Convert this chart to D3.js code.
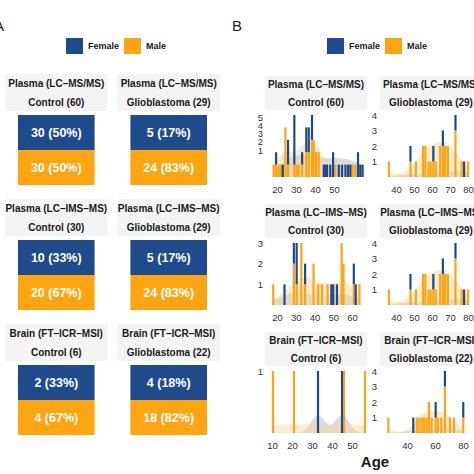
<!DOCTYPE html>
<html><head><meta charset="utf-8">
<script src="https://cdn.jsdelivr.net/npm/d3@7"></script>
<style>body{margin:0;background:#fff}svg{display:block;font-family:"Liberation Sans",Arial,Helvetica,sans-serif}</style>
</head><body><svg id="c" width="474" height="474"></svg>
<script>
// ---------------- DATA ----------------
const sexes = ["Female", "Male"];
const methods = ["Plasma (LC\u2013MS/MS)", "Plasma (LC\u2013IMS\u2013MS)", "Brain (FT\u2013ICR\u2013MSI)"];
const groupNames = ["Control", "Glioblastoma"];
const femaleCounts = [[30, 5], [10, 5], [2, 4]];
const maleCounts = [[30, 24], [20, 24], [4, 18]];

// histogram bars: [age, female, male]
const histLCMSControl = [[18.2,0,1],[19.5,1,1],[20.9,0,1],[22.1,0,1],[23,1,0],[24.4,0,4],[25.8,2,1],[29.1,4,1],[30.2,0,1],[31.4,0,1],[33.2,1,1],[35.4,2,2],[36.7,2,2],[38.4,2,3],[39.3,0,3],[40.5,0,2],[41.9,0,2],[44.6,1,0],[45.5,1,0],[46.3,1,0],[48,1,0],[49.5,2,0],[50.7,0,1],[52.5,1,0],[54.2,1,0],[56,1,0],[57.4,1,0],[58.6,1,0],[59.8,0,1],[61.2,0,1],[62.6,2,0],[63.8,1,0],[65,1,0]];
const histLCMSGlioma = [[36,0,1],[48,1,1],[51,0,1],[55,0,2],[56.3,0,2],[58,0,1],[59.2,0,1],[60.7,1,1],[62,0,1],[64.5,0,2],[66,1,2],[67.3,0,2],[68.8,0,2],[73,1,3],[76.5,0,1],[77.8,1,0],[80,0,1]];
const histIMSControl = [[18,0,1],[24,1,0],[29,1,2],[30.5,2,1],[33,0,3],[35,1,1],[39.5,0,2],[42,0,1],[44,0,1],[47,0,1],[49,1,0],[50,1,0],[52,1,0],[54.5,0,3],[55.5,0,2],[61,1,1],[62,1,0],[64,0,1]];
const histIMSGlioma = [[36,0,1],[48,1,1],[51,0,1],[55,0,2],[56.3,0,2],[58,0,1],[59.2,0,1],[60.7,1,1],[62,0,1],[64.5,0,2],[66,1,2],[67.3,0,2],[68.8,0,2],[73,1,3],[76.5,0,1],[77.8,1,0],[80,0,1]];
const histBrainControl = [[10.5,0,1],[21,0,1],[33,1,0],[45,1,0],[46,0,1],[56.5,0,1]];
const histBrainGlioma = [[26.7,0,1],[44.5,1,0],[47,0,1],[48.8,0,1],[50.5,0,1],[52.2,0,1],[54,0,1],[55.7,0,2],[57.6,0,1],[60.5,1,1],[62,0,1],[64.5,0,1],[67.1,1,3],[70.7,0,1],[73.6,0,1],[80.2,1,1]];

const xTicksLCMSControl = [20, 30, 40, 50];
const xTicksLCMSGlioma = [40, 50, 60, 70, 80];
const xTicksIMSControl = [20, 30, 40, 50, 60];
const xTicksIMSGlioma = [40, 50, 60, 70, 80];
const xTicksBrainControl = [10, 20, 30, 40, 50];
const xTicksBrainGlioma = [40, 60, 80];

// ---------------- STYLE / LAYOUT ----------------
const colors = {Female: "#1F4B8C", Male: "#FFA511"};
const densFill = {Female: "#a8a8a8", Male: "#f1d49a"};
const densOpacity = {Female: 0.4, Male: 0.45};
const svg = d3.select("#c");
const txt = "#1a1a1a";

// panel labels
svg.append("text").attr("x", -6).attr("y", 31).attr("font-size", 15).attr("fill", "#222").text("A");
svg.append("text").attr("x", 232).attr("y", 31).attr("font-size", 15).attr("fill", "#222").text("B");

function legend(x0) {
  const g = svg.append("g");
  const lx = d3.scaleOrdinal().domain(sexes).range([x0, x0 + 58]);
  sexes.forEach(s => {
    g.append("rect").attr("x", lx(s)).attr("y", 38).attr("width", 17).attr("height", 16).attr("fill", colors[s]);
    g.append("text").attr("x", lx(s) + 22).attr("y", 46).attr("dy", "0.35em")
      .attr("font-size", 9).attr("font-weight", "bold").attr("fill", txt).text(s);
  });
}
legend(66);
legend(327);

// ---------------- PANEL A ----------------
const aRowT1 = [83, 208, 333];
const aX = d3.scaleBand().domain(groupNames).range([5, 220]).paddingInner(0.0874);
methods.forEach((m, r) => {
  const t1 = aRowT1[r];
  const sexY = d3.scaleBand().domain(sexes).range([t1 + 32, t1 + 102]);
  groupNames.forEach((gname, c) => {
    const x0 = aX(gname), w = aX.bandwidth();
    const n = femaleCounts[r][c] + maleCounts[r][c];
    svg.append("rect").attr("x", x0).attr("y", t1 - 9).attr("width", w).attr("height", 37).attr("fill", "#f4f4f4");
    svg.append("text").attr("x", x0 + w / 2).attr("y", t1).attr("dy", "0.35em").attr("text-anchor", "middle")
      .attr("font-size", 10).attr("font-weight", "bold").attr("fill", txt).text(m);
    svg.append("text").attr("x", x0 + w / 2).attr("y", t1 + 19).attr("dy", "0.35em").attr("text-anchor", "middle")
      .attr("font-size", 10).attr("font-weight", "bold").attr("fill", txt).text(`${gname} (${n})`);
    const vals = {Female: femaleCounts[r][c], Male: maleCounts[r][c]};
    sexes.forEach(s => {
      svg.append("rect").attr("x", x0 + 13).attr("y", sexY(s)).attr("width", w - 26).attr("height", sexY.bandwidth()).attr("fill", colors[s]);
      svg.append("text").attr("x", x0 + w / 2).attr("y", sexY(s) + sexY.bandwidth() / 2).attr("dy", "0.36em")
        .attr("text-anchor", "middle").attr("font-size", 12.5).attr("font-weight", "bold").attr("fill", "#fff")
        .text(`${vals[s]} (${Math.round(100 * vals[s] / n)}%)`);
    });
  });
});

// ---------------- PANEL B ----------------
const bRowT1 = [84, 212, 340];
const bColX = [[270, 366], [384, 476]];
const bStripX = [[265, 367], [380, 482]];
const panels = [
  {r: 0, c: 0, data: histLCMSControl, ticks: xTicksLCMSControl, dom: [16.3, 66.8], axisInset: [27, 2]},
  {r: 0, c: 1, data: histLCMSGlioma, ticks: xTicksLCMSGlioma, dom: [33.3, 84.4]},
  {r: 1, c: 0, data: histIMSControl, ticks: xTicksIMSControl, dom: [16.27, 67.5]},
  {r: 1, c: 1, data: histIMSGlioma, ticks: xTicksIMSGlioma, dom: [33.3, 84.4]},
  {r: 2, c: 0, data: histBrainControl, ticks: xTicksBrainControl, dom: [9, 57]},
  {r: 2, c: 1, data: histBrainGlioma, ticks: xTicksBrainGlioma, dom: [23.6, 89.3]}
];
const DENS_SCALE = 2.5;
function nrd0(v) {
  const s = d3.deviation(v) || 0;
  const srt = v.slice().sort(d3.ascending);
  const iqr = d3.quantile(srt, 0.75) - d3.quantile(srt, 0.25);
  let lo = Math.min(s, iqr / 1.34);
  if (!(lo > 0)) lo = s || Math.abs(srt[0]) || 1;
  return 0.9 * lo * Math.pow(v.length, -0.2);
}
panels.forEach((p, i) => {
  const t1 = bRowT1[p.r];
  const top = t1 + 31, bottom = t1 + 93;
  const sx = bStripX[p.c];
  svg.append("rect").attr("x", sx[0]).attr("y", t1 - 8).attr("width", sx[1] - sx[0]).attr("height", 34).attr("fill", "#f4f4f4");
  const cx = (sx[0] + sx[1]) / 2;
  const n = d3.sum(p.data, d => d[1] + d[2]);
  svg.append("text").attr("x", cx).attr("y", t1).attr("dy", "0.35em").attr("text-anchor", "middle")
    .attr("font-size", 10).attr("font-weight", "bold").attr("fill", txt).text(methods[p.r]);
  svg.append("text").attr("x", cx).attr("y", t1 + 18).attr("dy", "0.35em").attr("text-anchor", "middle")
    .attr("font-size", 10).attr("font-weight", "bold").attr("fill", txt).text(`${groupNames[p.c]} (${n})`);

  const x = d3.scaleLinear().domain(p.dom).range(bColX[p.c]);
  const ymax = d3.max(p.data, d => d[1] + d[2]);
  const y = d3.scaleLinear().domain([0, ymax]).range([bottom, top]);
  // tick-label scale (in the reference the first panel's labels sit compressed above the bars)
  const yAxisScale = p.axisInset
    ? d3.scaleLinear().domain([1, ymax]).range([bottom - p.axisInset[0], top + p.axisInset[1]])
    : y;
  const g = svg.append("g");

  // densities
  const allAges = p.data.map(d => d[0]);
  const ext = d3.extent(allAges);
  const grid = d3.range(0, 121).map(k => ext[0] + (ext[1] - ext[0]) * k / 120);
  sexes.forEach((s, si) => {
    const vals = [];
    p.data.forEach(d => { for (let k = 0; k < d[1 + si]; k++) vals.push(d[0]); });
    if (vals.length < 1) return;
    const bw = vals.length > 1 ? nrd0(vals) : 5;
    const dens = grid.map(gx => [gx, d3.sum(vals, v => Math.exp(-0.5 * ((gx - v) / bw) ** 2) / (Math.sqrt(2 * Math.PI) * bw))]);
    const area = d3.area().x(d => x(d[0])).y0(y(0)).y1(d => y(Math.min(ymax, d[1] * DENS_SCALE)));
    g.append("path").datum(dens).attr("d", area).attr("fill", densFill[s]).attr("fill-opacity", densOpacity[s]);
  });

  // stacked bars
  const rows = p.data.map(d => ({age: d[0], Female: d[1], Male: d[2]}));
  const stack = d3.stack().keys(["Male", "Female"])(rows);
  stack.forEach(layer => {
    g.selectAll(null).data(layer.filter(d => d[1] > d[0])).join("rect")
      .attr("x", d => x(d.data.age) - 1.1).attr("width", 2.2)
      .attr("y", d => y(d[1])).attr("height", d => y(d[0]) - y(d[1]))
      .attr("fill", colors[layer.key]);
  });

  // axes
  const ya = svg.append("g").attr("transform", `translate(${bColX[p.c][0]},0)`)
    .call(d3.axisLeft(yAxisScale).tickValues(d3.range(1, ymax + 1)).tickFormat(d3.format("d")).tickSize(0).tickPadding(7));
  const xa = svg.append("g").attr("transform", `translate(0,${bottom})`)
    .call(d3.axisBottom(x).tickValues(p.ticks).tickSize(0).tickPadding(9.5));
  [ya, xa].forEach(a => {
    a.select(".domain").remove();
    a.selectAll("text").attr("font-size", 9.5).attr("fill", "#333").attr("font-family", '"Liberation Sans",Arial,sans-serif');
  });
});

svg.append("text").attr("x", 375).attr("y", 462).attr("dy", "0.35em").attr("text-anchor", "middle")
  .attr("font-size", 15).attr("font-weight", "bold").attr("fill", txt).text("Age");
</script></body></html>
